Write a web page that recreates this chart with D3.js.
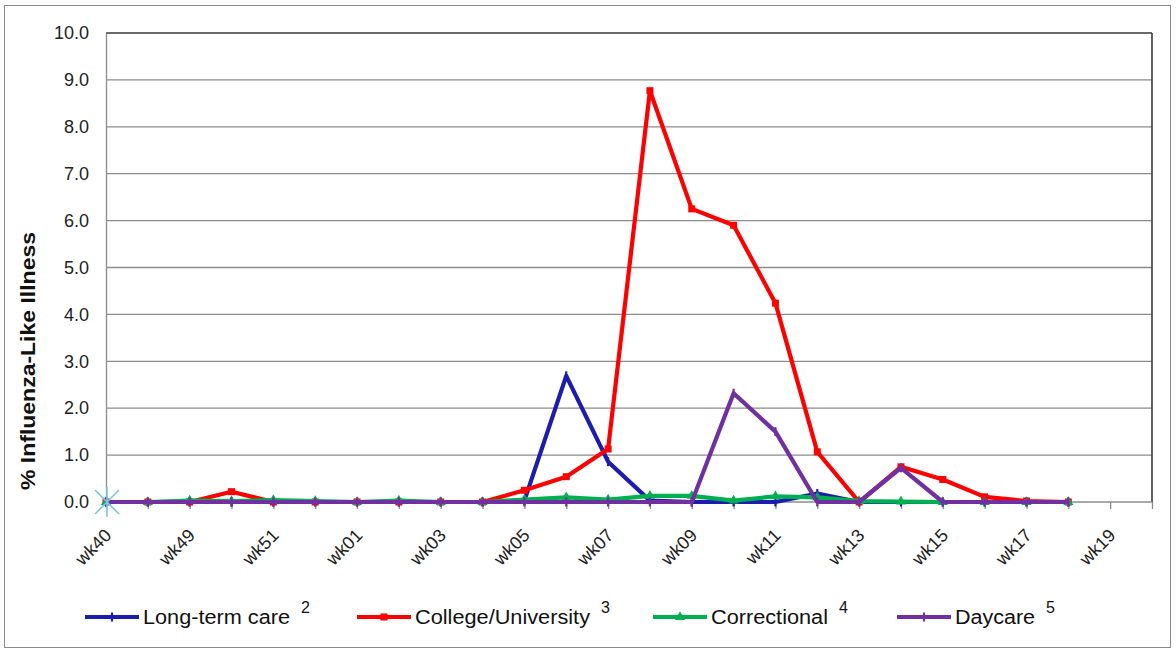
<!DOCTYPE html>
<html>
<head>
<meta charset="utf-8">
<script src="https://cdn.jsdelivr.net/npm/d3@7/dist/d3.min.js"></script>
<style>
  html, body { margin: 0; padding: 0; background: #fff; }
  svg { display: block; font-family: "Liberation Sans", Arial, sans-serif; }
</style>
</head>
<body>
<svg id="chart" width="1176" height="652"></svg>
<script>
// ---- data ----
const categories = ["wk40","wk48","wk49","wk50","wk51","wk52","wk01","wk02","wk03","wk04","wk05","wk06","wk07","wk08","wk09","wk10","wk11","wk12","wk13","wk14","wk15","wk16","wk17","wk18","wk19","wk20"];
const tickLabelIdx = [0,2,4,6,8,10,12,14,16,18,20,22,24];
const yTicks = [0,1,2,3,4,5,6,7,8,9,10];

const longTermCare = [0,0,0,0,0,0,0,0,0,0,0.03,2.69,0.86,0.03,0,0,0,0.18,0,0,0,0,0,0];
const collegeUniversity = [0,0,0,0.22,0,0,0,0,0,0,0.25,0.54,1.13,8.77,6.25,5.9,4.24,1.07,0,0.75,0.48,0.11,0.02,0];
const correctional = [0,0,0.03,0.02,0.04,0.02,0,0.03,0,0,0.05,0.1,0.05,0.13,0.13,0.03,0.12,0.1,0.02,0.01,0,0,0,0];
const daycare = [0,0,0,0,0,0,0,0,0,0,0,0,0,0,0,2.32,1.5,0,0,0.73,0,0,0,0];
const starPoint = [0]; // lone marker at the first category

const seriesNames = ["Long-term care","College/University","Correctional","Daycare"];
const seriesNotes = ["2","3","4","5"];
const seriesColors = ["#1c1cb0","#ff0000","#00b050","#7030a0"];
const seriesMarkers = ["plus","square","triangle","plus"];
const seriesValues = [longTermCare, collegeUniversity, correctional, daycare];

// ---- layout ----
const svg = d3.select("#chart");
const pLeft = 106, pRight = 1152, pTop = 33, pBottom = 502;

svg.append("rect").attr("x",0).attr("y",0).attr("width",1176).attr("height",652).attr("fill","#fff");
svg.append("rect").attr("x",4.5).attr("y",5.5).attr("width",1166).attr("height",642)
  .attr("fill","none").attr("stroke","#8a8a8a").attr("stroke-width",1);

const x = d3.scalePoint().domain(categories).range([pLeft, pRight]).padding(0);
const y = d3.scaleLinear().domain([0,10]).range([pBottom, pTop]);

// gridlines
svg.append("g").selectAll("line").data(yTicks.filter(d => d > 0)).join("line")
  .attr("x1", pLeft).attr("x2", pRight)
  .attr("y1", d => y(d)).attr("y2", d => y(d))
  .attr("stroke", d => d === 10 ? "#3a3a3a" : "#8c8c8c")
  .attr("stroke-width", d => d === 10 ? 1.6 : 1.3);

// right border of plot
svg.append("line").attr("x1", pRight).attr("x2", pRight).attr("y1", pTop).attr("y2", pBottom)
  .attr("stroke","#3a3a3a").attr("stroke-width",1.6);

// y axis
const yAxis = d3.axisLeft(y).tickValues(yTicks).tickFormat(d3.format(".1f")).tickSize(0).tickPadding(17);
const gy = svg.append("g").attr("transform", `translate(${pLeft},0)`).call(yAxis);
gy.select(".domain").attr("stroke","#8c8c8c").attr("stroke-width",1.3);
gy.selectAll("text").attr("font-size", 18).attr("fill","#222");

// x axis
const xAxis = d3.axisBottom(x).tickSize(7).tickFormat("");
const gx = svg.append("g").attr("transform", `translate(0,${pBottom})`).call(xAxis);
gx.select(".domain").attr("stroke","#8c8c8c").attr("stroke-width",1.3).attr("d", `M${pLeft},0H${pRight}`);
gx.selectAll(".tick line").attr("stroke","#8c8c8c").attr("stroke-width",1.3);

svg.append("g").selectAll("text").data(tickLabelIdx).join("text")
  .attr("transform", d => `translate(${x(categories[d]) + 2},${pBottom + 30}) rotate(-45)`)
  .attr("text-anchor","end").attr("dy","0.35em")
  .attr("font-size", 18).attr("fill","#222")
  .text(d => categories[d]);

// y axis title
svg.append("text")
  .attr("transform", "translate(35,361) rotate(-90)")
  .attr("text-anchor","middle")
  .attr("font-size", 20).attr("font-weight","bold").attr("fill","#111")
  .attr("textLength", 258).attr("lengthAdjust","spacingAndGlyphs")
  .text("% Influenza-Like Illness");

// lines
const line = d3.line().x((d,i) => x(categories[i])).y(d => y(d));

function marker(g, type, color, size) {
  if (type === "square") {
    g.append("rect").attr("x",-size/2).attr("y",-size/2).attr("width",size).attr("height",size).attr("fill",color);
  } else if (type === "triangle") {
    g.append("path").attr("d", d3.symbol().type(d3.symbolTriangle).size(size*size*0.9)()).attr("fill",color);
  } else {
    g.append("path").attr("d", `M0,${-size/2-1}V${size/2+1}`).attr("stroke",color).attr("stroke-width",2.2);
  }
}

seriesValues.forEach((vals, s) => {
  const g = svg.append("g");
  g.append("path").datum(vals).attr("d", line)
    .attr("fill","none").attr("stroke", seriesColors[s]).attr("stroke-width", 4.2)
    .attr("stroke-linejoin","round");
  g.selectAll("g.m").data(vals).join("g").attr("class","m")
    .attr("transform", (d,i) => `translate(${x(categories[i])},${y(d)})`)
    .each(function() { marker(d3.select(this), seriesMarkers[s], seriesColors[s], 7); });
});

// light-blue star marker
svg.append("g").selectAll("path").data(starPoint).join("path")
  .attr("transform", (d,i) => `translate(${x(categories[i]) + 1},${y(d)})`)
  .attr("d", "M-12,-12L12,12M-12,12L12,-12M0,-15V15")
  .attr("stroke","#7cc8e0").attr("stroke-width",1.6).attr("fill","none");

// legend
const legendX = [85, 357, 653, 897];
const legendTextW = [147, 175, 117, 80];
const legendY = 617;
const lg = svg.append("g");
seriesNames.forEach((name, s) => {
  const g = lg.append("g");
  g.append("line").attr("x1", legendX[s]).attr("x2", legendX[s] + 54)
    .attr("y1", legendY).attr("y2", legendY)
    .attr("stroke", seriesColors[s]).attr("stroke-width", 4.2);
  const mg = g.append("g").attr("transform", `translate(${legendX[s] + 27},${legendY})`);
  marker(mg, seriesMarkers[s], seriesColors[s], 7);
  g.append("text").attr("x", legendX[s] + 58).attr("y", legendY + 7)
    .attr("font-size", 20).attr("fill","#111")
    .attr("textLength", legendTextW[s]).attr("lengthAdjust","spacingAndGlyphs")
    .text(name);
  g.append("text").attr("x", legendX[s] + 58 + legendTextW[s] + 11).attr("y", legendY - 4)
    .attr("font-size", 16).attr("fill","#111")
    .text(seriesNotes[s]);
});
</script>
</body>
</html>
